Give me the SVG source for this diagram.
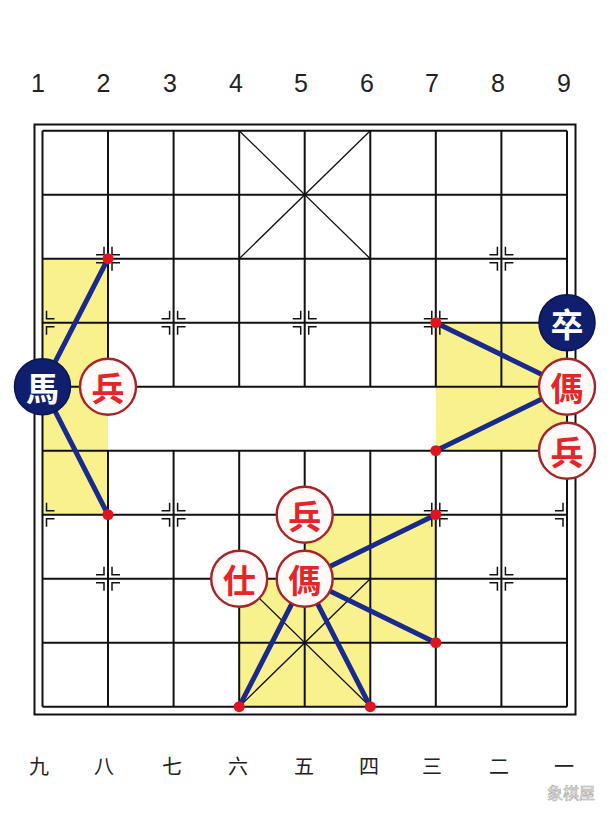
<svg xmlns="http://www.w3.org/2000/svg" width="616" height="824" viewBox="0 0 616 824">
<style>
.grid{stroke:#111;stroke-width:2;fill:none}
.pal{stroke:#111;stroke-width:1.3;fill:none}
.mk{stroke:#111;stroke-width:1.5;fill:none}
.yel{fill:#f9f18e}
.link{stroke:#1a2a8c;stroke-width:5;stroke-linecap:round;fill:none}
.dot{fill:#e0141e}
.rp{fill:#fffaf8;stroke:#a82228;stroke-width:2.4}
.bp{fill:#0f1f6e;stroke:#0a1550;stroke-width:1.5}
.rt{fill:#e3262a;font-family:"Noto Sans CJK SC","Noto Sans CJK TC",sans-serif;font-size:33px;font-weight:700;text-anchor:middle;dominant-baseline:central}
.bt{fill:#ffffff;font-family:"Noto Sans CJK SC","Noto Sans CJK TC",sans-serif;font-size:33px;font-weight:700;text-anchor:middle;dominant-baseline:central}
.num{fill:#222;font-family:"Liberation Sans",Arial,sans-serif;font-size:25px;text-anchor:middle}
.cn{fill:#222;font-family:"Noto Sans CJK SC",sans-serif;font-size:20px;text-anchor:middle;dominant-baseline:central}
.wm{fill:#f4f4f4;stroke:#a8a8a8;stroke-width:0.6;font-family:"Noto Sans CJK SC",sans-serif;font-size:16px;text-anchor:middle}
</style>
<rect x="0" y="0" width="616" height="824" fill="#ffffff"/>

<g id="highlights">
<rect class="yel" x="42.5" y="258.7" width="65.5" height="256"/>
<rect class="yel" x="435.8" y="322.7" width="131.2" height="128"/>
<polygon class="yel" points="304.7,514.7 435.8,514.7 435.8,642.7 370.3,642.7 370.3,706.7 239.2,706.7 239.2,578.7 304.7,578.7"/>
</g>

<g id="board">
<rect class="grid" x="34.5" y="124.5" width="541" height="590"/>
<path class="grid" d="M42.5,130.7H567M42.5,194.7H567M42.5,258.7H567M42.5,322.7H567M42.5,386.7H567M42.5,450.7H567M42.5,514.7H567M42.5,578.7H567M42.5,642.7H567M42.5,706.7H567"/>
<path class="grid" d="M42.5,130.7V706.7M567,130.7V706.7M108,130.7V386.7M173.6,130.7V386.7M239.2,130.7V386.7M304.7,130.7V386.7M370.3,130.7V386.7M435.8,130.7V386.7M501.4,130.7V386.7M108,450.7V706.7M173.6,450.7V706.7M239.2,450.7V706.7M304.7,450.7V706.7M370.3,450.7V706.7M435.8,450.7V706.7M501.4,450.7V706.7"/>
<path class="pal" d="M239.2,130.7L370.3,258.7M370.3,130.7L239.2,258.7M239.2,578.7L370.3,706.7M370.3,578.7L239.2,706.7"/>
</g>

<g id="markers">
<path class="mk" d="M104,246.7V254.7H96M112,246.7V254.7H120M104,270.7V262.7H96M112,270.7V262.7H120"/>
<path class="mk" d="M497.4,246.7V254.7H489.4M505.4,246.7V254.7H513.4M497.4,270.7V262.7H489.4M505.4,270.7V262.7H513.4"/>
<path class="mk" d="M104,566.7V574.7H96M112,566.7V574.7H120M104,590.7V582.7H96M112,590.7V582.7H120"/>
<path class="mk" d="M497.4,566.7V574.7H489.4M505.4,566.7V574.7H513.4M497.4,590.7V582.7H489.4M505.4,590.7V582.7H513.4"/>
<path class="mk" d="M46.5,310.7V318.7H54.5M46.5,334.7V326.7H54.5"/>
<path class="mk" d="M169.6,310.7V318.7H161.6M177.6,310.7V318.7H185.6M169.6,334.7V326.7H161.6M177.6,334.7V326.7H185.6"/>
<path class="mk" d="M300.7,310.7V318.7H292.7M308.7,310.7V318.7H316.7M300.7,334.7V326.7H292.7M308.7,334.7V326.7H316.7"/>
<path class="mk" d="M431.8,310.7V318.7H423.8M439.8,310.7V318.7H447.8M431.8,334.7V326.7H423.8M439.8,334.7V326.7H447.8"/>
<path class="mk" d="M563,310.7V318.7H555M563,334.7V326.7H555"/>
<path class="mk" d="M46.5,502.7V510.7H54.5M46.5,526.7V518.7H54.5"/>
<path class="mk" d="M169.6,502.7V510.7H161.6M177.6,502.7V510.7H185.6M169.6,526.7V518.7H161.6M177.6,526.7V518.7H185.6"/>
<path class="mk" d="M300.7,502.7V510.7H292.7M308.7,502.7V510.7H316.7M300.7,526.7V518.7H292.7M308.7,526.7V518.7H316.7"/>
<path class="mk" d="M431.8,502.7V510.7H423.8M439.8,502.7V510.7H447.8M431.8,526.7V518.7H423.8M439.8,526.7V518.7H447.8"/>
<path class="mk" d="M563,502.7V510.7H555M563,526.7V518.7H555"/>
</g>

<g id="connectors">
<line class="link" x1="42.5" y1="386.7" x2="108" y2="258.7"/>
<line class="link" x1="42.5" y1="386.7" x2="108" y2="514.7"/>
<line class="link" x1="567" y1="386.7" x2="435.8" y2="322.7"/>
<line class="link" x1="567" y1="386.7" x2="435.8" y2="450.7"/>
<line class="link" x1="304.7" y1="578.7" x2="435.8" y2="514.7"/>
<line class="link" x1="304.7" y1="578.7" x2="435.8" y2="642.7"/>
<line class="link" x1="304.7" y1="578.7" x2="239.2" y2="706.7"/>
<line class="link" x1="304.7" y1="578.7" x2="370.3" y2="706.7"/>
</g>

<g id="targets">
<circle class="dot" cx="108" cy="258.7" r="5.5"/>
<circle class="dot" cx="108" cy="514.7" r="5.5"/>
<circle class="dot" cx="435.8" cy="322.7" r="5.5"/>
<circle class="dot" cx="435.8" cy="450.7" r="5.5"/>
<circle class="dot" cx="435.8" cy="514.7" r="5.5"/>
<circle class="dot" cx="435.8" cy="642.7" r="5.5"/>
<circle class="dot" cx="239.2" cy="706.7" r="5.5"/>
<circle class="dot" cx="370.3" cy="706.7" r="5.5"/>
</g>

<g id="piece-black-horse"><circle class="bp" cx="42.5" cy="386.7" r="28"/><text class="bt" x="42.5" y="386.7">馬</text></g>
<g id="piece-red-pawn-1"><circle class="rp" cx="108" cy="386.7" r="28"/><text class="rt" x="108" y="386.7">兵</text></g>
<g id="piece-black-pawn"><circle class="bp" cx="567" cy="322.7" r="28"/><text class="bt" x="567" y="322.7">卒</text></g>
<g id="piece-red-horse-1"><circle class="rp" cx="567" cy="386.7" r="28"/><text class="rt" x="567" y="386.7">傌</text></g>
<g id="piece-red-pawn-2"><circle class="rp" cx="567" cy="450.7" r="28"/><text class="rt" x="567" y="450.7">兵</text></g>
<g id="piece-red-pawn-3"><circle class="rp" cx="304.7" cy="514.7" r="28"/><text class="rt" x="304.7" y="514.7">兵</text></g>
<g id="piece-red-advisor"><circle class="rp" cx="239.2" cy="578.7" r="28"/><text class="rt" x="239.2" y="578.7">仕</text></g>
<g id="piece-red-horse-2"><circle class="rp" cx="304.7" cy="578.7" r="28"/><text class="rt" x="304.7" y="578.7">傌</text></g>

<g id="top-labels">
<text class="num" x="38" y="92">1</text>
<text class="num" x="103.5" y="92">2</text>
<text class="num" x="170" y="92">3</text>
<text class="num" x="236" y="92">4</text>
<text class="num" x="301" y="92">5</text>
<text class="num" x="367" y="92">6</text>
<text class="num" x="432" y="92">7</text>
<text class="num" x="498" y="92">8</text>
<text class="num" x="564" y="92">9</text>
</g>

<g id="bottom-labels">
<text class="cn" x="39" y="765">九</text>
<text class="cn" x="104" y="765">八</text>
<text class="cn" x="172" y="765">七</text>
<text class="cn" x="238" y="765">六</text>
<text class="cn" x="304" y="765">五</text>
<text class="cn" x="369" y="765">四</text>
<text class="cn" x="432" y="765">三</text>
<text class="cn" x="499" y="765">二</text>
<text class="cn" x="564" y="765">一</text>
</g>

<text class="wm" x="571" y="799">象棋屋</text>
</svg>
